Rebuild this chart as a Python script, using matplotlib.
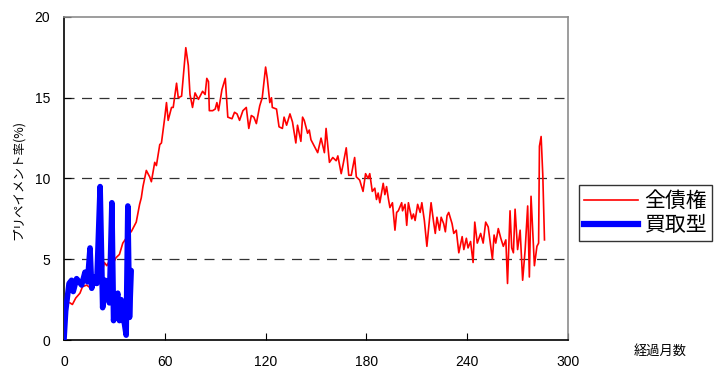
import matplotlib
matplotlib.use("Agg")
import matplotlib.pyplot as plt
from matplotlib.lines import Line2D

plt.rcParams['font.family'] = ['Liberation Sans', 'Noto Sans CJK JP', 'DejaVu Sans']

# ---- data ----
red_months = [3.5, 5, 7, 9.5, 11, 13.5, 16, 18, 20, 22, 24, 25.5, 27, 29, 31, 33, 35, 37, 38, 40,
              41.5, 43, 45, 46, 47, 49, 51, 52, 54, 55, 57, 58, 60, 61, 62, 64, 65, 67, 68, 70,
              71, 72.5, 74, 75, 76.5, 78, 80, 81, 82.5, 84, 85, 86, 86.5, 88.5, 90, 91, 92, 94, 96, 97.5,
              100, 101.5, 103, 104.5, 106.5, 108.5, 110, 111.5, 113, 114.5, 116.5, 118, 120, 121, 122.5, 123.5, 124, 126.5, 128, 130,
              131, 132.5, 134.5, 136, 138, 139, 141, 142, 143, 145, 146, 147, 149, 151, 153, 155, 156, 158, 160, 162,
              163, 165, 166, 168, 169.5, 171, 173, 174, 176, 178, 179.5, 181, 182, 183.5, 185, 186, 187, 188, 190, 191,
              192, 193, 194, 195.5, 197, 198, 199, 201, 201.5, 203, 204, 205, 207, 208, 209, 210.5, 212, 213, 214.5, 216,
              218.5, 220, 221, 222, 223.5, 224.5, 226, 227, 228, 229, 231, 232, 233.5, 235, 237, 238, 239.5, 240.5, 242, 243.5,
              244.5, 246, 248, 249.5, 251, 252.5, 255, 256, 257, 258.5, 260, 261.5, 263, 264, 265.5, 266.5, 267.5, 268.5, 270, 271.5,
              273, 274.5, 276, 277, 278, 280, 281.5, 282.5, 283, 284, 285, 286]
red_values = [2.3, 2.2, 2.6, 2.9, 3.3, 3.4, 3.2, 3.6, 3.4, 3.8, 4.8, 4.6, 4.9, 4.7, 5.1, 5.3, 6.0, 6.3, 6.6, 6.7,
              7.0, 7.3, 8.4, 8.8, 9.5, 10.5, 10.1, 9.8, 11.0, 10.8, 12.1, 12.2, 13.8, 14.7, 13.6, 14.4, 14.4, 15.9, 15.0, 15.1,
              16.3, 18.1, 17.0, 15.2, 14.4, 15.3, 14.9, 15.1, 15.4, 15.2, 16.2, 16.0, 14.2, 14.2, 14.3, 14.7, 14.2, 15.5, 16.2, 13.8,
              13.7, 14.1, 14.0, 13.6, 14.2, 14.4, 13.1, 13.9, 13.8, 13.4, 14.5, 15.0, 16.9, 16.2, 14.7, 15.0, 14.4, 14.3, 13.2, 13.1,
              13.8, 13.3, 14.0, 13.5, 12.2, 13.3, 12.3, 13.8, 13.6, 12.8, 13.0, 12.4, 12.0, 11.6, 12.5, 11.6, 13.1, 11.0, 11.3, 11.1,
              11.4, 10.3, 10.8, 11.9, 10.2, 10.2, 11.3, 10.1, 9.9, 9.2, 10.3, 10.0, 10.3, 9.2, 9.4, 8.7, 9.1, 8.5, 9.7, 9.0,
              9.5, 8.8, 8.2, 8.5, 6.8, 7.9, 8.0, 8.5, 8.0, 8.4, 7.1, 8.5, 7.5, 7.8, 7.4, 8.4, 7.9, 8.5, 7.4, 5.8,
              8.5, 7.3, 6.6, 7.6, 6.8, 7.6, 7.2, 6.7, 7.7, 7.9, 7.2, 6.6, 6.8, 5.4, 6.4, 5.6, 6.3, 5.7, 6.1, 4.8,
              7.3, 6.0, 6.6, 6.0, 7.3, 7.0, 5.0, 6.5, 6.0, 6.9, 6.3, 5.8, 6.2, 3.5, 8.0, 5.7, 5.4, 8.1, 5.6, 6.8,
              3.7, 5.6, 8.3, 3.9, 8.9, 4.6, 5.8, 6.0, 12.0, 12.6, 10.2, 6.2]

blue_months = [0, 1, 3, 4.5, 5.5, 7.5, 9, 10.5, 12.5, 14, 15.5, 16.5, 18, 19.5, 21.5, 23, 24.5, 26, 27,
               28.5, 29.5, 31, 32, 33, 34, 35, 36, 37, 38, 39, 40]
blue_values = [0.0, 1.8, 3.5, 3.7, 3.0, 3.8, 3.6, 3.4, 4.2, 3.6, 5.7, 3.2, 3.9, 3.5, 9.5, 2.0, 3.7, 3.2, 2.3,
               8.5, 1.2, 2.4, 2.9, 1.2, 2.5, 1.4, 1.0, 0.3, 8.3, 1.4, 4.3]

series_names = ['全債権', '買取型']
x_ticks = [0, 60, 120, 180, 240, 300]
y_ticks = [0, 5, 10, 15, 20]
y_grid = [5, 10, 15]

# ---- figure ----
fig = plt.figure(figsize=(7.14, 3.68), dpi=100)
ax = fig.add_axes([64 / 714, 28 / 368, 504 / 714, 323 / 368])

for g in y_grid:
    ax.axhline(g, color='#333333', linewidth=0.9, dashes=(8, 6), zorder=1)

ax.plot(red_months, red_values, color='#ff0000', linewidth=1.2, zorder=3)
ax.plot(blue_months, blue_values, color='#0000ff', linewidth=4.0, zorder=4,
        solid_joinstyle='round', solid_capstyle='round')

ax.set_xlim(0, 300)
ax.set_ylim(0, 20)
ax.set_xticks(x_ticks)
ax.set_yticks(y_ticks)
ax.tick_params(axis='x', direction='in', length=5, pad=11, labelsize=10, color='black')
ax.tick_params(axis='y', direction='in', length=5, pad=10, labelsize=10, color='black')

for s in ['left', 'bottom']:
    ax.spines[s].set_color('black')
    ax.spines[s].set_linewidth(1.2)
for s in ['top', 'right']:
    ax.spines[s].set_color('#8c8c8c')
    ax.spines[s].set_linewidth(1.2)

fig.text(18 / 714, 1 - 180 / 368, 'プリペイメント率(%)', rotation=90, ha='center', va='center',
         fontsize=9, family=['Noto Sans CJK JP', 'DejaVu Sans'])
fig.text(660 / 714, 1 - 351 / 368, '経過月数', ha='center', va='center', fontsize=9.5,
         family=['Noto Sans CJK JP', 'DejaVu Sans'])

handles = [Line2D([], [], color='#ff0000', linewidth=1.2),
           Line2D([], [], color='#0000ff', linewidth=4.5)]
leg = fig.legend(handles, series_names, loc='upper left',
                 bbox_to_anchor=(579 / 714, 1 - 185 / 368), frameon=True, fancybox=False,
                 edgecolor='black', prop={'size': 15, 'family': ['Noto Sans CJK JP']},
                 handlelength=2.6, handletextpad=0.3, borderpad=0.25, labelspacing=0.1,
                 borderaxespad=0)
leg.get_frame().set_linewidth(1.0)

fig.savefig('out.png', dpi=100)
